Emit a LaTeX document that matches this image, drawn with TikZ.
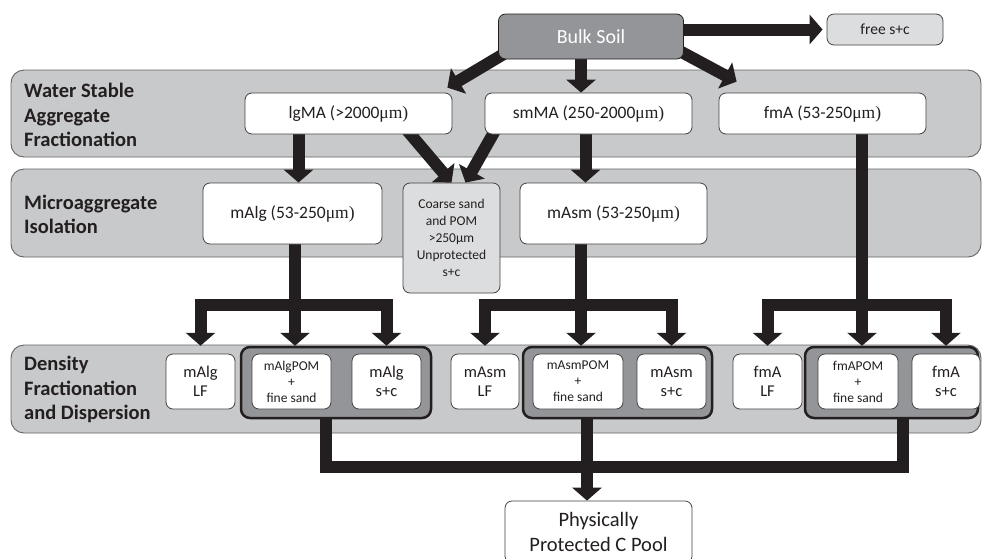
\documentclass[tikz,border=0pt]{standalone}
\usepackage{fontspec}
\setmainfont{Carlito}
\newfontfamily\mufont{Liberation Serif}
\usetikzlibrary{arrows.meta, calc}
\definecolor{bandgray}{HTML}{C8C9CB}
\definecolor{midgray}{HTML}{939598}
\definecolor{palegray}{HTML}{DCDDDE}
\definecolor{ink}{HTML}{231F20}
\pgfdeclarelayer{back}
\pgfdeclarelayer{mid}
\pgfsetlayers{back,mid,main}
\newcommand{\mum}{{\mufont μm)}}
\begin{document}
\begin{tikzpicture}[x=1pt, y=-1pt,
		box/.style={rectangle, rounded corners=7pt, draw=ink!85, fill=white, line width=0.8pt, align=center, inner sep=0pt, text=ink},
		band/.style={rounded corners=13pt, draw=ink!70, fill=bandgray, line width=0.9pt},
		grp/.style={rectangle, rounded corners=9pt, draw=ink, fill=midgray, line width=2.5pt, inner sep=0pt},
		bandlabel/.style={anchor=west, align=left, inner sep=0pt, text=ink, font=\bfseries\fontsize{20.5}{24.5}\selectfont},
		fracbox/.style={box, minimum width=207, minimum height=41, font=\fontsize{17.5}{21}\selectfont},
		densbox/.style={box, minimum height=55, font=\fontsize{16.5}{19}\selectfont},
		pombox/.style={box, minimum height=55, font=\fontsize{13.5}{16}\selectfont},
		line/.style={draw=ink, line width=12pt},
		arr/.style={line, -{Triangle[length=13pt, width=29pt]}}]
		\useasboundingbox (0,0) rectangle (982,558);
		% bands
		\begin{pgfonlayer}{back}
		\draw[band] (11,70) rectangle (981,157);
		\draw[band] (11,169) rectangle (981,257);
		\draw[band] (11,345) rectangle (981,433);
		\end{pgfonlayer}
		\node at (24,115) [bandlabel] (wsaf) {Water Stable\\Aggregate\\Fractionation};
		\node at (24,214.5) [bandlabel] (miso) {Microaggregate\\Isolation};
		\node at (24,389.5) [bandlabel] (dfd) {Density\\Fractionation\\and Dispersion};
		% top
		\node at (591,36.5) [box, fill=midgray, draw=ink, minimum width=185, minimum height=45, text=white, font=\fontsize{20}{24}\selectfont] (bulk) {Bulk Soil};
		\node at (885,29.5) [box, fill=palegray, minimum width=116, minimum height=31, font=\fontsize{15.5}{19}\selectfont] (free) {free s+c};
		\node at (348.5,113.5) [fracbox] (lgma) {lgMA (>2000\mum};
		\node at (588.5,113.5) [fracbox] (smma) {smMA (250-2000\mum};
		\node at (822.5,113.5) [fracbox] (fma) {fmA (53-250\mum};
		\node at (292.5,213.5) [fracbox, minimum width=179, minimum height=61] (malg) {mAlg (53-250\mum};
		\node at (613.5,213.5) [fracbox, minimum width=187, minimum height=61] (masm) {mAsm (53-250\mum};
		\node at (451.5,238) [box, fill=palegray, minimum width=97, minimum height=110, font=\fontsize{13.5}{17}\selectfont] (coarse) {Coarse sand\\and POM\\>250μm\\Unprotected\\s+c};
		% density row
		\node at (336,382.5) [grp, minimum width=190, minimum height=71] (g1) {};
		\node at (617.5,382.5) [grp, minimum width=189, minimum height=71] (g2) {};
		\node at (891.5,382.5) [grp, minimum width=173, minimum height=71] (g3) {};
		\node at (200.5,381.5) [densbox, minimum width=69] (malglf) {mAlg\\LF};
		\node at (291.5,381.5) [pombox, minimum width=79] (malgpom) {mAlgPOM\\+\\fine sand};
		\node at (386.5,381.5) [densbox, minimum width=69] (malgsc) {mAlg\\s+c};
		\node at (485,381.5) [densbox, minimum width=68] (masmlf) {mAsm\\LF};
		\node at (578,381.5) [pombox, minimum width=90] (masmpom) {mAsmPOM\\+\\fine sand};
		\node at (671.5,381.5) [densbox, minimum width=69] (masmsc) {mAsm\\s+c};
		\node at (767.5,381.5) [densbox, minimum width=69] (fmalf) {fmA\\LF};
		\node at (858,381.5) [pombox, minimum width=80] (fmapom) {fmAPOM\\+\\fine sand};
		\node at (946,381.5) [densbox, minimum width=68] (fmasc) {fmA\\s+c};
		\node at (598.5,532) [box, minimum width=187, minimum height=62, font=\fontsize{20.5}{25}\selectfont] (phys) {Physically\\Protected C Pool};
		% junctions
		\coordinate (b1) at (295,305);
		\coordinate (b2) at (581,305);
		\coordinate (b3) at (862,305);
		\coordinate (b4) at (587,467);
		% arrows
		\begin{pgfonlayer}{mid}
		\draw[arr] ($(bulk.south west)+(20,-14)$) -- ($(lgma.north east)+(-5,-5)$);
		\draw[arr] ([xshift=-10pt]bulk.center) -- ([xshift=-10pt]bulk.center |- smma.north);
		\draw[arr] ($(bulk.south east)+(-24,-19)$) -- ($(fma.north west)+(18,-11)$);
		\draw[arr] (bulk.center |- free.west) -- ([xshift=-4pt]free.west);
		\draw[arr] ([xshift=6pt]malg.north |- lgma.center) -- ([xshift=6pt]malg.north);
		\draw[arr] ($(lgma.south east)+(-52,-12)$) -- (coarse.north);
		\draw[arr] ($(smma.south west)+(15,-12)$) -- ($(coarse.north)+(14,0)$);
		\draw[arr] ([xshift=-28pt]masm.north |- smma.center) -- ([xshift=-28pt]masm.north);
		\draw[line] (malg.center -| b1) -- (b1);
		\draw[line] (masm.center -| b2) -- (b2);
		\draw[line] (fma.center -| b3) -- (b3);
		\foreach \j/\l/\r/\g in {b1/malglf/malgsc/g1, b2/masmlf/masmsc/g2, b3/fmalf/fmasc/g3} {
			\draw[arr] (\j) -| (\l.north |- \g.north);
			\draw[arr] (\j) -- (\j |- \g.north);
			\draw[arr] (\j) -| (\r.north |- \g.north);
		}
		\draw[line] ([xshift=-10pt]g1.south) |- (b4);
		\draw[line] ([xshift=11.5pt]g3.south) |- (b4);
		\draw[arr] ([xshift=-30.5pt]g2.south) -- (b4 |- phys.north);
		\end{pgfonlayer}
\end{tikzpicture}
\end{document}
